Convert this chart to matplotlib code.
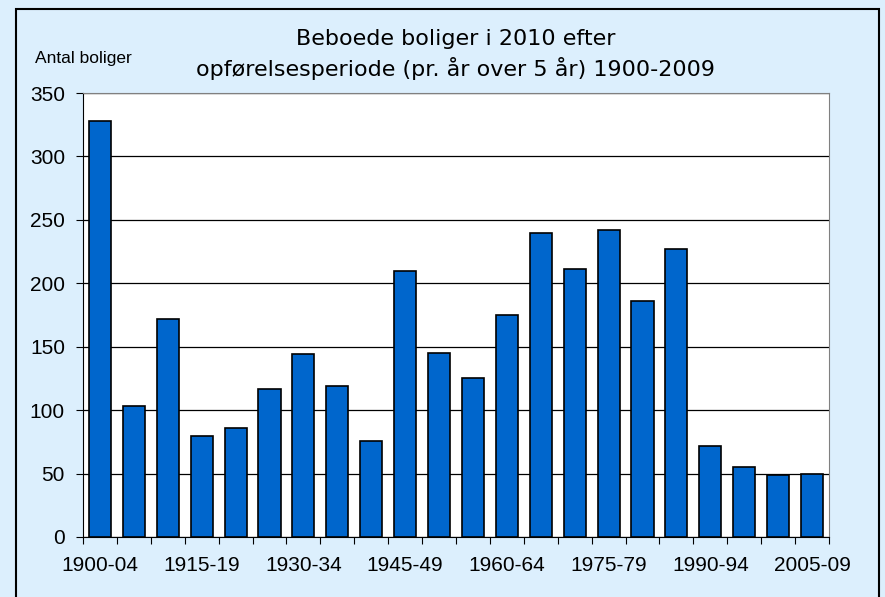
import numpy as np
import matplotlib
matplotlib.use("Agg")
import matplotlib.pyplot as plt
from matplotlib.patches import Rectangle

plt.rcParams['font.family'] = ['Liberation Sans', 'DejaVu Sans']

# data
periods = ["%d-%02d" % (y, (y + 4) % 100) for y in range(1900, 2010, 5)]
boliger = [328, 103, 172, 80, 86, 117, 144, 119, 76, 210, 145,
           125, 175, 240, 211, 242, 186, 227, 72, 55, 49, 50]
yticks = [0, 50, 100, 150, 200, 250, 300, 350]

bg = '#DCEFFD'
fig = plt.figure(figsize=(8.85, 5.97), dpi=100, facecolor=bg)
# outer frame (cropped at the bottom)
fig.patches.append(Rectangle((16 / 885, -0.05), (879 - 16) / 885, 1.05 - 9 / 597,
                             transform=fig.transFigure, fill=False,
                             edgecolor='black', linewidth=1.5))

ax = fig.add_axes([83 / 885, 1 - 537 / 597, (829 - 83) / 885, (537 - 93) / 597])
ax.set_facecolor('white')

x = np.arange(len(boliger))
ax.bar(x, boliger, width=0.65, color='#0066CC', edgecolor='black',
       linewidth=1.2, zorder=3)

ax.set_xlim(-0.5, len(boliger) - 0.5)
ax.set_ylim(0, 350)
ax.set_yticks(yticks)
ax.set_yticklabels([str(v) for v in yticks], fontsize=15)
ax.yaxis.grid(True, color='black', linewidth=0.9, zorder=0)

ax.set_xticks(np.arange(-0.5, len(boliger), 1), minor=False)
ax.set_xticklabels([])
ax.set_xticks(x[::3], minor=True)
ax.set_xticklabels(periods[::3], minor=True, fontsize=15)
ax.tick_params(axis='x', which='major', direction='out', length=5, color='black')
ax.tick_params(axis='x', which='minor', length=0, pad=14)
ax.tick_params(axis='y', direction='out', length=5, pad=8)

for s in ['top', 'right']:
    ax.spines[s].set_color('#808080')
for s in ['left', 'bottom']:
    ax.spines[s].set_color('black')

fig.text(456 / 885, 1 - 39 / 597, 'Beboede boliger i 2010 efter',
         ha='center', va='center', fontsize=16, family='DejaVu Sans')
fig.text(456 / 885, 1 - 68 / 597, 'opførelsesperiode (pr. år over 5 år) 1900-2009',
         ha='center', va='center', fontsize=16, family='DejaVu Sans')
fig.text(35 / 885, 1 - 58 / 597, 'Antal boliger', ha='left', va='center',
         fontsize=12.5)

fig.savefig('out.png', dpi=100, facecolor=bg)
